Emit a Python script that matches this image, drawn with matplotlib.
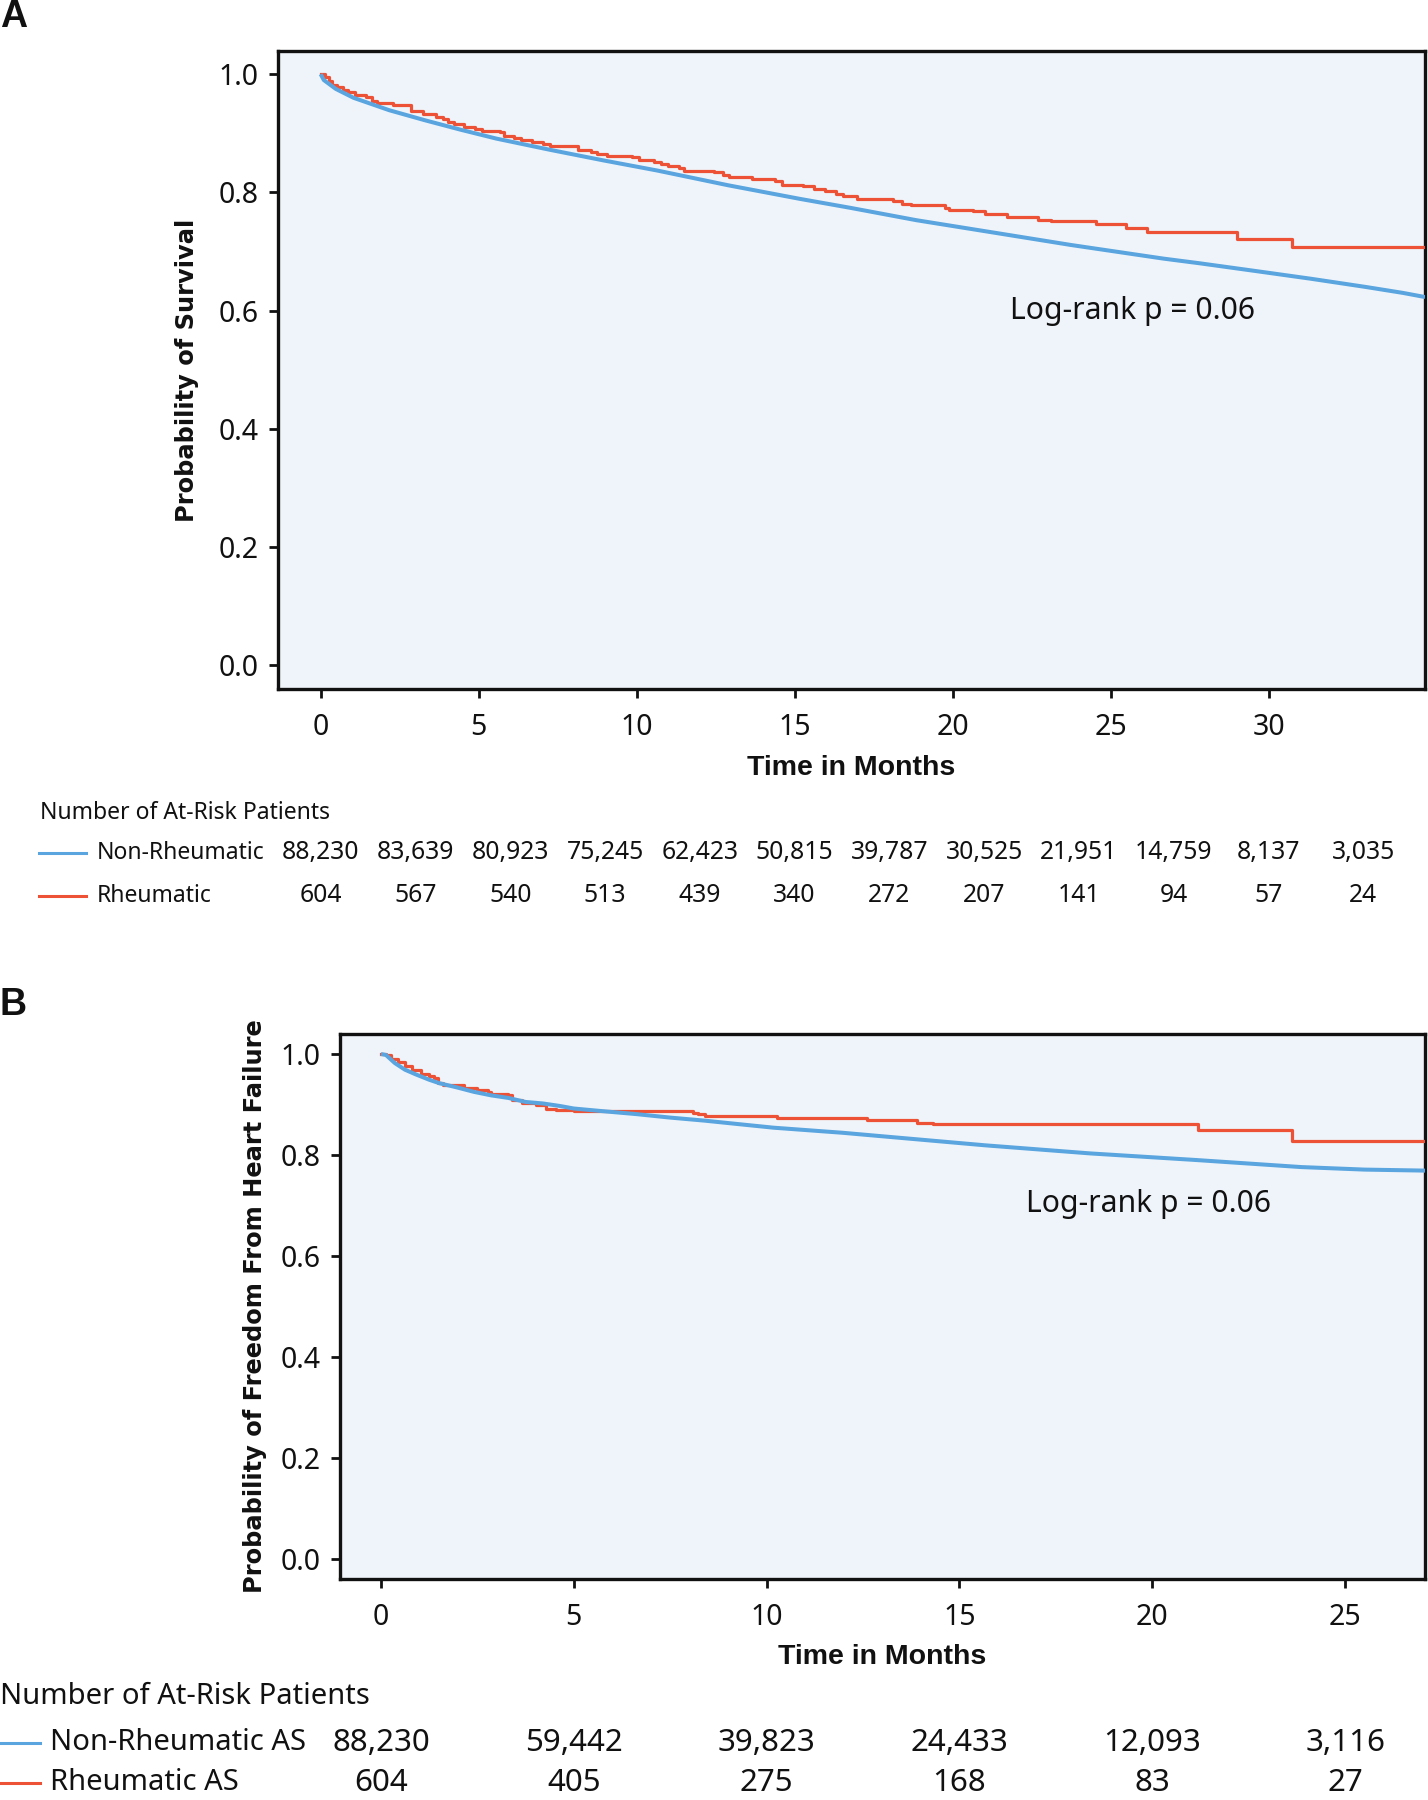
import matplotlib
matplotlib.use('Agg')
import matplotlib.pyplot as plt
from matplotlib.lines import Line2D
from matplotlib.transforms import blended_transform_factory

plt.rcParams['font.family'] = ['Noto Sans', 'DejaVu Sans']

W, H = 1428, 1800
BLUE = '#5AA5DF'
RED = '#EE5236'
FACE = '#EFF4FA'
BOLD_FAMILY = ['Liberation Sans', 'DejaVu Sans']

# ---------------- Panel A data (all-cause survival) ----------------
a_nonrheum_t = [0, 0.1, 0.48, 1.04, 2.17, 3.30, 4.43, 5.56, 7.26, 8.96, 10.65, 12.9,
                15.17, 16.75, 18.85, 21.42, 23.75, 26.67, 27.83, 29.59, 31.33, 33.08,
                34.25, 34.95]
a_nonrheum_s = [1.0, 0.99, 0.975, 0.960, 0.939, 0.922, 0.906, 0.891, 0.872, 0.854, 0.837,
                0.812, 0.789, 0.774, 0.753, 0.731, 0.711, 0.688, 0.680, 0.667, 0.654,
                0.640, 0.630, 0.623]
a_rheum_t = [0, 0.14, 0.25, 0.37, 0.53, 0.70, 0.87, 1.10, 1.44, 1.61, 1.78, 2.12, 2.29,
             2.85, 3.25, 3.64, 3.87, 4.04, 4.21, 4.55, 4.89, 5.11, 5.68, 5.79, 6.13, 6.35,
             6.69, 7.03, 7.26, 7.94, 8.16, 8.56, 8.73, 9.07, 9.86, 10.09, 10.54, 10.76,
             10.99, 11.33, 11.50, 12.46, 12.74, 12.91, 13.65, 14.38, 14.60, 15.28, 15.62,
             15.96, 16.30, 16.53, 16.96, 18.10, 18.39, 18.68, 19.76, 19.90, 20.66, 21.01,
             21.71, 22.70, 23.11, 24.55, 25.50, 26.14, 29.00, 30.75, 34.95]
a_rheum_s = [1.0, 0.995, 0.988, 0.981, 0.978, 0.973, 0.969, 0.964, 0.961, 0.955, 0.952,
             0.951, 0.948, 0.937, 0.933, 0.928, 0.924, 0.919, 0.915, 0.910, 0.907, 0.903,
             0.902, 0.896, 0.892, 0.889, 0.886, 0.882, 0.879, 0.878, 0.871, 0.869, 0.865,
             0.861, 0.860, 0.854, 0.852, 0.848, 0.844, 0.842, 0.837, 0.835, 0.830, 0.826,
             0.823, 0.820, 0.812, 0.810, 0.806, 0.803, 0.798, 0.794, 0.788, 0.785, 0.781,
             0.778, 0.774, 0.770, 0.768, 0.764, 0.758, 0.754, 0.751, 0.746, 0.739, 0.733,
             0.722, 0.708, 0.708]
a_risk_months = [0, 3, 6, 9, 12, 15, 18, 21, 24, 27, 30, 33]
a_risk_nonrheum = ['88,230', '83,639', '80,923', '75,245', '62,423', '50,815', '39,787',
                   '30,525', '21,951', '14,759', '8,137', '3,035']
a_risk_rheum = ['604', '567', '540', '513', '439', '340', '272', '207', '141', '94', '57', '24']
a_xticks = [0, 5, 10, 15, 20, 25, 30]
a_labels = ['Non-Rheumatic', 'Rheumatic']

# ---------------- Panel B data (freedom from heart failure) ----------------
b_nonrheum_t = [0, 0.13, 0.36, 0.62, 0.89, 1.25, 1.52, 1.96, 2.41, 2.86, 3.30, 3.75, 4.20,
                4.64, 5.00, 5.71, 6.61, 7.50, 8.39, 9.28, 10.18, 11.07, 11.96, 12.85,
                15.68, 18.40, 21.13, 23.86, 25.5, 27.07]
b_nonrheum_s = [1.0, 0.998, 0.982, 0.969, 0.960, 0.949, 0.942, 0.934, 0.925, 0.918, 0.913,
                0.905, 0.902, 0.897, 0.892, 0.887, 0.881, 0.874, 0.868, 0.861, 0.854, 0.849,
                0.844, 0.838, 0.819, 0.803, 0.790, 0.776, 0.771, 0.769]
b_rheum_t = [0, 0.13, 0.27, 0.45, 0.62, 0.80, 1.03, 1.25, 1.38, 1.47, 1.60, 2.14, 2.50,
             2.77, 2.86, 3.30, 3.39, 3.66, 4.02, 4.28, 4.55, 5.00, 8.10, 8.21, 8.39, 10.27,
             12.59, 13.90, 14.31, 21.18, 23.63, 27.07]
b_rheum_s = [1.0, 0.998, 0.991, 0.985, 0.976, 0.969, 0.961, 0.956, 0.953, 0.942, 0.938,
             0.933, 0.929, 0.925, 0.920, 0.918, 0.908, 0.902, 0.898, 0.892, 0.890, 0.887,
             0.884, 0.881, 0.877, 0.874, 0.869, 0.864, 0.861, 0.849, 0.828, 0.828]
b_risk_months = [0, 5, 10, 15, 20, 25]
b_risk_nonrheum = ['88,230', '59,442', '39,823', '24,433', '12,093', '3,116']
b_risk_rheum = ['604', '405', '275', '168', '83', '27']
b_xticks = [0, 5, 10, 15, 20, 25]
b_labels = ['Non-Rheumatic AS', 'Rheumatic AS']

yticks = [0.0, 0.2, 0.4, 0.6, 0.8, 1.0]


def fx(px):
    return px / W


def fy(py):
    return 1 - py / H


fig = plt.figure(figsize=(W / 100, H / 100), dpi=100)
fig.patch.set_facecolor('white')


def make_panel(rect_px, xlim, xticks, nr_t, nr_s, r_t, r_s, ylabel, ylab_xy,
               xlab_xy, pval_xy, table):
    l, t, r, b = rect_px
    ax = fig.add_axes([fx(l), fy(b), (r - l) / W, (b - t) / H])
    ax.set_facecolor(FACE)
    ax.step(r_t, r_s, where='post', color=RED, lw=2.3, zorder=3)
    ax.plot(nr_t, nr_s, color=BLUE, lw=2.9, zorder=4, solid_capstyle='butt')
    ax.set_xlim(*xlim)
    ax.set_ylim(-0.04, 1.04)
    ax.set_xticks(xticks)
    ax.set_yticks(yticks)
    ax.set_yticklabels(['%.1f' % v for v in yticks])
    for s in ax.spines.values():
        s.set_linewidth(2.4)
        s.set_color('#111111')
    ax.tick_params(axis='both', direction='out', length=6.5, width=2.0,
                   labelsize=20.5, color='#111111', labelcolor='#111111')
    ax.tick_params(axis='y', pad=7.5)
    ax.tick_params(axis='x', pad=11)
    fig.text(fx(ylab_xy[0]), fy(ylab_xy[1]), ylabel, rotation=90, ha='center',
             va='center', fontsize=17.4, fontweight='bold', family='DejaVu Sans',
             color='#111111')
    fig.text(fx(xlab_xy[0]), fy(xlab_xy[1]), 'Time in Months', ha='center',
             va='center', fontsize=20.5, fontweight='bold', family=BOLD_FAMILY,
             color='#111111')
    ax.text(pval_xy[0], pval_xy[1], 'Log-rank p = 0.06', ha='center', va='center',
            fontsize=21.7, color='#111111')

    (hdr_x, hdr_y, line_x0, line_x1, lab_x, row_ys, fs, nfs, months, rows, labels) = table
    fig.text(fx(hdr_x), fy(hdr_y), 'Number of At-Risk Patients', ha='left',
             va='center', fontsize=fs, color='#111111')
    tr = blended_transform_factory(ax.transData, fig.transFigure)
    for ry, vals, lab, col in zip(row_ys, rows, labels, [BLUE, RED]):
        fig.add_artist(Line2D([fx(line_x0), fx(line_x1)], [fy(ry), fy(ry)],
                              transform=fig.transFigure, color=col, lw=2.2))
        fig.text(fx(lab_x), fy(ry), lab, ha='left', va='center', fontsize=fs,
                 color='#111111')
        for m, v in zip(months, vals):
            ax.text(m, fy(ry), v, transform=tr, ha='center', va='center',
                    fontsize=nfs, color='#111111', clip_on=False)
    return ax


make_panel((278, 50.5, 1425, 689), (-1.35, 34.95), a_xticks,
           a_nonrheum_t, a_nonrheum_s, a_rheum_t, a_rheum_s,
           'Probability of Survival', (187, 370), (851.5, 768), (25.7, 0.60),
           (40, 813, 39, 86, 97, (853, 896), 16.5, 17.8, a_risk_months,
            (a_risk_nonrheum, a_risk_rheum), a_labels))

make_panel((339.7, 1033.8, 1425, 1579), (-1.07, 27.07), b_xticks,
           b_nonrheum_t, b_nonrheum_s, b_rheum_t, b_rheum_s,
           'Probability of Freedom From Heart Failure', (255, 1306), (882, 1657),
           (19.9, 0.703),
           (0, 1697, 0, 40, 50, (1743, 1783), 21, 22.5, b_risk_months,
            (b_risk_nonrheum, b_risk_rheum), b_labels))

fig.text(fx(0), fy(17), 'A', ha='left', va='center', fontsize=27, fontweight='bold',
         family=BOLD_FAMILY, color='#111111')
fig.text(fx(0), fy(1005), 'B', ha='left', va='center', fontsize=27, fontweight='bold',
         family=BOLD_FAMILY, color='#111111')

fig.savefig('out.png', dpi=100, facecolor='white')
